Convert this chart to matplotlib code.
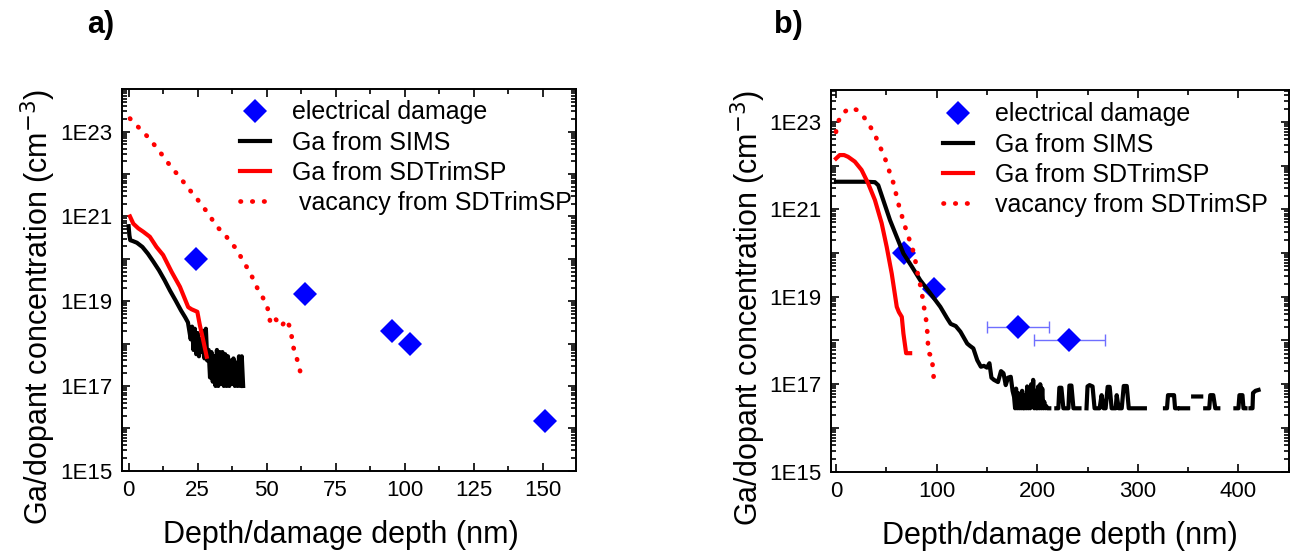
import numpy as np
import matplotlib.pyplot as plt
from matplotlib.ticker import LogLocator, FuncFormatter, MultipleLocator, NullFormatter, FixedLocator

plt.rcParams['font.family'] = ['Liberation Sans', 'DejaVu Sans']

nan = np.nan

# ---- panel a) depth (nm) and log10 concentration (cm^-3) ----
a_damage_x = [24.4, 63.9, 95.3, 101.9, 151.0]
a_damage_y = [1e20, 1.5e19, 2e18, 1e18, 1.5e16]

a_sims_x = [0.0, 0.3, 0.6, 1.5, 3.0, 5.0, 7.0, 9.0, 11.0, 13.0, 15.0, 17.0, 19.0, 20.5, 21.5,
            22.5, 23.0, 23.5, 24.0, 24.5, 25.0, 25.5, 26.0, 26.5, 27.0, 27.5, 28.0, 28.5,
            29.0, 29.5, 30.0, 30.5, 31.0, 31.5, 32.0, 32.5, 33.0, 33.5, 34.0, 34.5, 35.0,
            35.5, 36.0, 36.5, 37.0, 37.5, 38.0, 38.5, 39.0, 39.5, 40.0, 40.5, 41.0, 41.5]
a_sims_log = [20.77, 20.55, 20.44, 20.42, 20.38, 20.28, 20.12, 19.93, 19.73, 19.50, 19.25, 19.02, 18.78, 18.62, 18.50,
              18.10, 18.40, 17.85, 18.35, 17.75, 18.25, 17.70, 18.10, 17.80, 18.30, 17.65, 18.35, 17.60,
              17.85, 17.20, 17.80, 17.10, 17.70, 17.00, 17.85, 17.00, 17.80, 17.05, 17.80, 17.00, 17.75,
              17.00, 17.70, 17.00, 17.60, 17.05, 17.65, 17.00, 17.55, 17.00, 17.70, 17.00, 17.70, 17.00]

a_trim_x = [0.5, 1.7, 3.5, 5.3, 7.7, 10.1, 12.5, 15.6, 18.6, 21.6, 22.8, 24.9, 25.8, 27.0, 28.3]
a_trim_log = [21.0, 20.83, 20.72, 20.64, 20.52, 20.28, 20.09, 19.69, 19.34, 18.86, 18.81, 18.75, 18.44, 18.09, 17.69]

a_vac_x = [0.5, 2.6, 7.5, 11.6, 15.6, 18.0, 22.2, 24.4, 28.6, 32.1, 34.9, 36.7, 38.9, 42.1, 44.0,
           46.7, 48.6, 50.2, 51.4, 53.0, 55.4, 57.0, 58.4, 59.1, 59.6, 60.5, 61.5, 62.3, 63.3]
a_vac_log = [23.31, 23.17, 22.84, 22.50, 22.15, 21.97, 21.62, 21.45, 21.09, 20.75, 20.58, 20.40, 20.25, 19.88, 19.68,
             19.30, 19.09, 18.89, 18.48, 18.60, 18.40, 18.57, 18.40, 18.16, 17.94, 17.73, 17.54, 17.30, 17.46]

# ---- panel b) ----
b_damage_x = [68, 97, 181, 232]
b_damage_y = [1e20, 1.5e19, 2e18, 1e18]
b_damage_xerr = [0, 0, 31, 35]

b_sims_x = [0.0, 10.0, 20.0, 30.0, 38.7, 42.0, 47.0, 53.7, 60.4, 67.0, 75.4, 83.7, 93.7, 103.7, 110.4,
            114.0, 119.0, 123.7, 130.4, 133.0, 136.5, 140.4, 144.0, 147.0, 150.0, 152.5, 154.5, 157.0,
            161.0, 164.0, 166.5, 168.7, 171.0, 173.7, 175.5, 177.0,
            178, 179, 180, 181, 182, 183, 184, 185, 186, 187, 188, 189, 190, 191, 192, 193, 194, 195,
            196, 197, 198, 199, 200, 201, 202, 203, 204, 205, 206, 207, 208, 209, 210, 211, 212, 215,
            219, 221, 222, 224, 226, 229, 231, 232, 234, 236, 238, 240, 242, 245,
            249, 250, 252, 255, 257, 259, 262, 264, 266, 268, 270, 272, 274, 276, 278, 279, 281, 284,
            286, 289, 291, 293, 296, 300, 305, 307, 315,
            327, 329, 330, 333, 336, 337, 339, 340.5,
            342, 350, 352,
            355, 363, 365,
            367, 371, 372, 375, 377, 380, 390,
            397, 400, 401, 404, 405, 407, 410,
            412, 414, 414.5, 417, 420]
b_sims_log = [21.63, 21.63, 21.63, 21.63, 21.62, 21.55, 21.21, 20.75, 20.37, 19.99, 19.69, 19.38, 19.08, 18.77, 18.51,
              18.38, 18.33, 18.20, 17.93, 17.88, 17.82, 17.55, 17.40, 17.42, 17.38, 17.48, 17.15, 17.10,
              17.05, 17.30, 17.25, 16.98, 17.15, 17.17, 16.85, 16.71,
              16.45, 16.90, 16.45, 16.80, 16.45, 16.60, 16.45, 16.85, 16.45, 16.45, 16.75, 16.45, 16.95, 16.45,
              16.70, 16.45, 17.00, 16.50, 17.10, 16.45, 16.85, 16.45, 16.45, 16.95, 16.45, 17.00, 16.45, 16.90,
              16.45, 16.60, 16.45, 16.50, 16.45, 16.45, 16.45, nan,
              16.45, 16.45, 16.92, 16.92, 16.45, 16.45, 16.45, 16.97, 16.97, 16.45, 16.45, 16.45, 16.45, nan,
              16.45, 16.95, 16.98, 16.95, 16.45, 16.45, 16.45, 16.75, 16.45, 16.45, 16.94, 16.94, 16.45, 16.45,
              16.45, 16.75, 16.45, 16.45, 16.96, 16.96, 16.45, 16.45, 16.45, 16.45, 16.45, 16.45, nan,
              16.45, 16.45, 16.75, 16.75, 16.75, 16.45, 16.45, nan,
              16.45, 16.45, nan,
              16.72, 16.72, nan,
              16.45, 16.45, 16.75, 16.75, 16.45, 16.45, nan,
              16.45, 16.45, 16.75, 16.75, 16.45, 16.45, nan,
              16.45, 16.45, 16.80, 16.85, 16.87]

b_trim_x = [0.0, 3.7, 8.0, 12.0, 18.7, 25.4, 32.0, 38.7, 45.4, 50.4, 55.4, 60.4, 62.5, 65.4, 67.0, 69.7, 73.7]
b_trim_log = [22.16, 22.24, 22.24, 22.20, 22.09, 21.90, 21.59, 21.21, 20.68, 20.14, 19.53, 18.77, 18.65, 18.54,
              18.16, 17.71, 17.71]

b_vac_x = [0.0, 1.5, 5.4, 13.7, 21.0, 28.0, 33.7, 38.7, 42.0, 47.0, 50.4, 53.7, 57.7, 61.0, 64.7, 68.7,
           72.0, 76.4, 78.7, 80.4, 83.0, 85.4, 87.0, 88.7, 90.4, 91.0, 92.0, 95.4, 96.0, 97.0, 97.0]
b_vac_log = [22.77, 22.96, 23.17, 23.32, 23.27, 23.10, 22.90, 22.72, 22.50, 22.28, 22.05, 21.82, 21.56, 21.21,
             20.91, 20.60, 20.37, 20.07, 19.85, 19.61, 19.35, 19.08, 18.81, 18.62, 18.32, 18.09, 17.70, 17.66,
             17.43, 17.24, 17.01]

y_decades = [1e15, 1e16, 1e17, 1e18, 1e19, 1e20, 1e21, 1e22, 1e23]

labels_a = ['electrical damage', 'Ga from SIMS', 'Ga from SDTrimSP', ' vacancy from SDTrimSP']
labels_b = ['electrical damage', 'Ga from SIMS', 'Ga from SDTrimSP', 'vacancy from SDTrimSP']


def odd_exp(v, pos):
    e = int(round(np.log10(v)))
    return '1E%d' % e if e % 2 == 1 else ''


def draw_panel(ax, dmg_x, dmg_y, sims_x, sims_log, trim_x, trim_log, vac_x, vac_log, labels, xerr=None):
    if xerr is not None:
        ax.errorbar(dmg_x, dmg_y, xerr=xerr, fmt='none', ecolor='#6f6fff', elinewidth=1.0,
                    capsize=4, capthick=1.0, zorder=1)
    h0, = ax.plot(dmg_x, dmg_y, 'D', color='blue', ms=12, mew=0, zorder=2)
    h1, = ax.plot(sims_x, 10 ** np.array(sims_log), color='black', lw=3, zorder=3)
    h2, = ax.plot(trim_x, 10 ** np.array(trim_log), color='red', lw=3, zorder=4)
    h3, = ax.plot(vac_x, 10 ** np.array(vac_log), color='red', lw=3.4,
                  linestyle=(0, (0.1, 2.4)), dash_capstyle='round', zorder=4)
    ax.set_yscale('log')
    ax.yaxis.set_major_locator(FixedLocator(y_decades))
    ax.yaxis.set_major_formatter(FuncFormatter(odd_exp))
    ax.yaxis.set_minor_locator(LogLocator(base=10, subs=np.arange(2, 10), numticks=20))
    ax.yaxis.set_minor_formatter(NullFormatter())
    ax.tick_params(which='both', direction='in', top=True, right=True, labelsize=16, width=1.2, pad=7)
    ax.tick_params(which='major', length=6)
    ax.tick_params(which='minor', length=3.5)
    for s in ax.spines.values():
        s.set_linewidth(1.4)
    ax.set_xlabel('Depth/damage depth (nm)', fontsize=22)
    ax.set_ylabel('Ga/dopant concentration (cm$^{-3}$)', fontsize=22)
    return [h0, h1, h2, h3]


fig = plt.figure(figsize=(12.99, 5.53), dpi=100)
ax1 = fig.add_axes([0.0939, 0.1488, 0.3493, 0.6897])
ax2 = fig.add_axes([0.6397, 0.1470, 0.3524, 0.6900])

# --- a) ---
hs = draw_panel(ax1, a_damage_x, a_damage_y, a_sims_x, a_sims_log, a_trim_x, a_trim_log,
                a_vac_x, a_vac_log, labels_a)
ax1.set_xlim(-2.4, 162)
ax1.set_ylim(1e15, 1e24)
ax1.xaxis.set_major_locator(MultipleLocator(25))
ax1.xaxis.set_minor_locator(MultipleLocator(12.5))
ax1.legend(hs, labels_a, loc='upper left', bbox_to_anchor=(0.21, 1.03), frameon=False, fontsize=18,
           handlelength=1.2, handletextpad=0.9, labelspacing=0.25, borderpad=0.4)
ax1.xaxis.set_label_coords(0.483, -0.13)
ax1.yaxis.set_label_coords(-0.142, 0.43)

# --- b) ---
hs = draw_panel(ax2, b_damage_x, b_damage_y, b_sims_x, b_sims_log, b_trim_x, b_trim_log,
                b_vac_x, b_vac_log, labels_b, xerr=b_damage_xerr)
ax2.set_xlim(-5, 450)
ax2.set_ylim(1e15, 5.3e23)
ax2.xaxis.set_major_locator(MultipleLocator(100))
ax2.xaxis.set_minor_locator(MultipleLocator(50))
ax2.legend(hs, labels_b, loc='upper left', bbox_to_anchor=(0.195, 1.027), frameon=False, fontsize=18,
           handlelength=1.2, handletextpad=0.9, labelspacing=0.25, borderpad=0.4)
ax2.xaxis.set_label_coords(0.5, -0.13)
ax2.yaxis.set_label_coords(-0.138, 0.43)

fig.text(0.0667, 0.955, 'a)', fontsize=22, fontweight='bold', ha='left', va='center')
fig.text(0.596, 0.955, 'b)', fontsize=22, fontweight='bold', ha='left', va='center')

fig.savefig('out.png', dpi=100)
